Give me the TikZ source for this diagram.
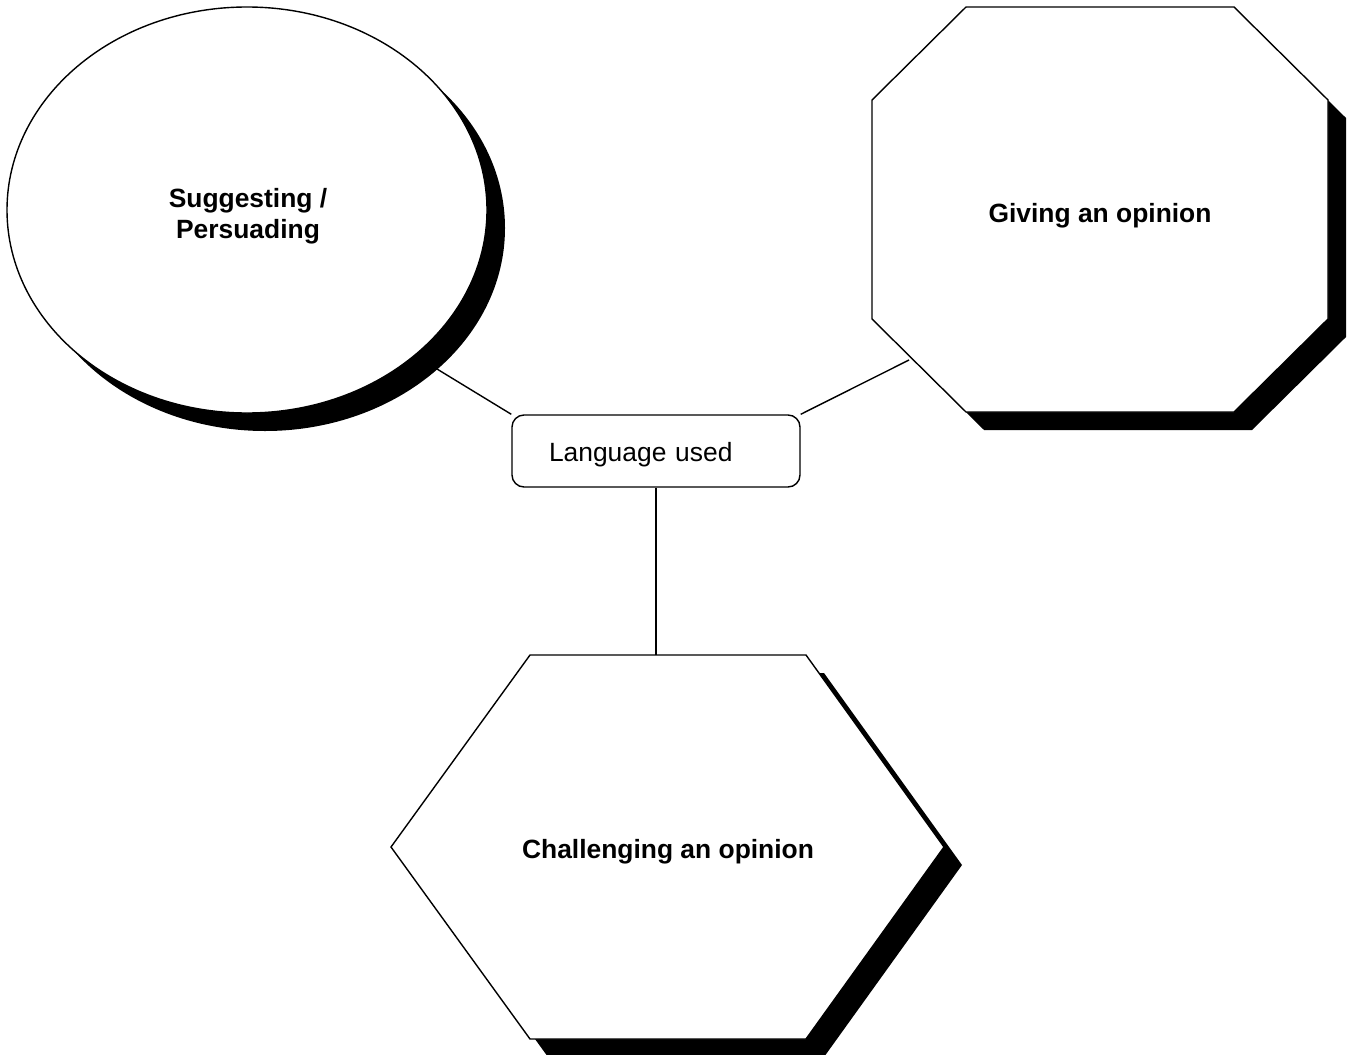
\documentclass[tikz,border=0pt]{standalone}
\usepackage{fontspec}
\setmainfont{Liberation Sans}

\tikzset{
  outline/.style={draw=black,fill=white,line width=0.7pt,line join=miter},
  shade/.style={fill=black},
  title/.style={font=\bfseries\fontsize{13.2}{15.5}\selectfont,align=center},
  langbox/.style={draw=black,fill=white,line width=0.7pt,rounded corners=6pt,
    minimum height=36pt,text width=107pt,inner xsep=18.5pt,align=left,
    text height=13pt,text depth=3pt,font=\fontsize{13.2}{15.5}\selectfont},
  link/.style={black,line width=0.7pt},
}

\begin{document}
\begin{tikzpicture}[x=0.5pt,y=-0.5pt]
\useasboundingbox (0,0) rectangle (1353,1054);
% Ellipse (top left) with shadow
\fill[shade] (265,228) ellipse [x radius=240,y radius=203];
\draw[outline] (247,210) ellipse [x radius=240,y radius=203];
% Octagon (top right) with shadow
\fill[shade,shift={(18,18)}] (966,7)--(1234,7)--(1328,100)--(1328,319)--(1234,412)--(966,412)--(872,319)--(872,100)--cycle;
\draw[outline] (966,7)--(1234,7)--(1328,100)--(1328,319)--(1234,412)--(966,412)--(872,319)--(872,100)--cycle;
% Hexagon (bottom) with shadow
\fill[shade,shift={(18,18)}] (530,655)--(806,655)--(944,847)--(806,1039)--(530,1039)--(391,847)--cycle;
\draw[outline] (530,655)--(806,655)--(944,847)--(806,1039)--(530,1039)--(391,847)--cycle;
% Labels
\node[title] (sug) at (248,216) {Suggesting /\\Persuading};
\node[title] (giv) at (1100,216) {Giving an opinion};
\node[title] (chal) at (668,852) {Challenging an opinion};
% Centre box
\node[langbox] (lang) at (656,451) {Language used};
% Connector ends on the shapes
\coordinate (sugend) at (437,369);
\coordinate (givend) at (909,360);
\coordinate (chalend) at (656,655);
% Connectors
\draw[link] (lang.north west)--(sugend);
\draw[link] (lang.north east)--(givend);
\draw[link] (lang.south)--(chalend);
\end{tikzpicture}
\end{document}
